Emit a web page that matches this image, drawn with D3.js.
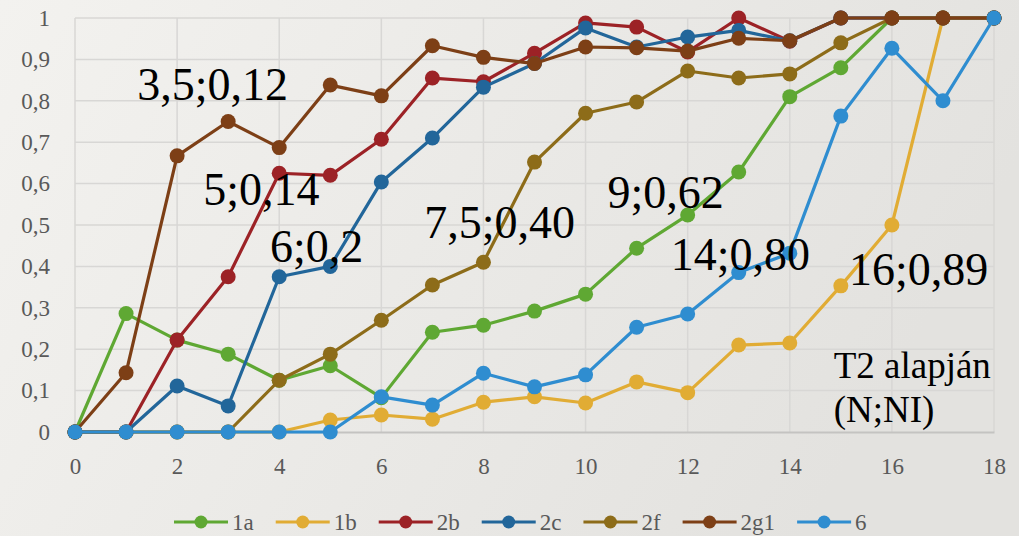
<!DOCTYPE html>
<html lang="hu">
<head>
<meta charset="utf-8" />
<title>T2 alapján</title>
<script src="https://d3js.org/d3.v7.min.js"></script>
<style>
    html, body { margin: 0; padding: 0; }
    body { width: 1019px; height: 536px; overflow: hidden; }
    svg text { font-family: "Liberation Serif", "DejaVu Serif", serif; }
</style>
</head>
<body>
<div id="chart"></div>
<script>
// data
var xValues = d3.range(0, 19);
var xTicks = [0, 2, 4, 6, 8, 10, 12, 14, 16, 18];
var yTicks = [0, 0.1, 0.2, 0.3, 0.4, 0.5, 0.6, 0.7, 0.8, 0.9, 1];

var seriesNames = ["1a", "1b", "2b", "2c", "2f", "2g1", "6"];
var seriesColors = ["#5fa833", "#e1ac34", "#9c2226", "#22669a", "#8d6c19", "#7d3f16", "#2f8dd0"];

var s1a  = [0, 0.286, 0.222, 0.188, 0.125, 0.16, 0.083, 0.241, 0.258, 0.292, 0.333, 0.444, 0.524, 0.628, 0.81, 0.88, 1, 1, 1];
var s1b  = [0, 0, 0, 0, 0, 0.029, 0.041, 0.031, 0.072, 0.085, 0.07, 0.121, 0.095, 0.21, 0.215, 0.353, 0.5, 1, 1];
var s2b  = [0, 0, 0.222, 0.375, 0.625, 0.62, 0.707, 0.855, 0.846, 0.915, 0.988, 0.978, 0.918, 1, 0.944, 1, 1, 1, 1];
var s2c  = [0, 0, 0.111, 0.063, 0.375, 0.4, 0.604, 0.71, 0.833, 0.89, 0.976, 0.93, 0.954, 0.97, 0.945, 1, 1, 1, 1];
var s2f  = [0, 0, 0, 0, 0.125, 0.188, 0.27, 0.355, 0.41, 0.652, 0.77, 0.797, 0.872, 0.855, 0.865, 0.94, 1, 1, 1];
var s2g1 = [0, 0.143, 0.667, 0.75, 0.687, 0.838, 0.812, 0.933, 0.905, 0.89, 0.93, 0.928, 0.92, 0.951, 0.945, 1, 1, 1, 1];
var s6   = [0, 0, 0, 0, 0, 0, 0.085, 0.065, 0.142, 0.109, 0.138, 0.253, 0.285, 0.385, 0.432, 0.763, 0.927, 0.8, 1];

var seriesValues = [s1a, s1b, s2b, s2c, s2f, s2g1, s6];

// text boxes on the chart, placed in data units (left edge, baseline)
var noteTexts = ["3,5;0,12", "5;0,14", "6;0,2", "7,5;0,40", "9;0,62", "14;0,80", "16;0,89"];
var noteX = [1.22, 2.51, 3.82, 6.84, 10.43, 11.67, 15.16];
var noteY = [0.802, 0.548, 0.41, 0.469, 0.541, 0.391, 0.355];

var width = 1019, height = 536;
var margin = { top: 18, right: 25, bottom: 104, left: 75 };

var svg = d3.select("#chart").append("svg")
    .attr("width", width)
    .attr("height", height);

// soft grey background
var grad = svg.append("defs").append("linearGradient")
    .attr("id", "bg").attr("x1", "0").attr("y1", "0").attr("x2", "1").attr("y2", "0.3");
grad.append("stop").attr("offset", "0%").attr("stop-color", "#f3f2ef");
grad.append("stop").attr("offset", "100%").attr("stop-color", "#e3e2df");
svg.append("rect").attr("width", width).attr("height", height).attr("fill", "url(#bg)");

var x = d3.scaleLinear().domain([0, 18]).range([margin.left, width - margin.right]);
var y = d3.scaleLinear().domain([0, 1]).range([height - margin.bottom, margin.top]);

// gridlines
svg.append("g")
    .selectAll("line")
    .data(yTicks.slice(1))
    .enter().append("line")
    .attr("x1", x(0)).attr("x2", x(18))
    .attr("y1", d => y(d)).attr("y2", d => y(d))
    .attr("stroke", "#d8d7d5").attr("stroke-width", 1.5);

svg.append("g")
    .selectAll("line")
    .data(xTicks)
    .enter().append("line")
    .attr("x1", d => x(d)).attr("x2", d => x(d))
    .attr("y1", y(0)).attr("y2", y(1))
    .attr("stroke", "#d8d7d5").attr("stroke-width", 1.5);

// axes
var fmt = d => String(d).replace(".", ",");
var yAxis = svg.append("g")
    .attr("transform", "translate(" + (x(0) - 25) + ",0)")
    .call(d3.axisLeft(y).tickValues(yTicks).tickFormat(fmt).tickSize(0).tickPadding(0))
    .attr("font-family", "Liberation Serif, serif")
    .attr("font-size", 23);
yAxis.select(".domain").remove();
yAxis.selectAll("text").attr("fill", "#595959");

var xAxis = svg.append("g")
    .attr("transform", "translate(0," + y(0) + ")")
    .call(d3.axisBottom(x).tickValues(xTicks).tickFormat(d => d).tickSize(0).tickPadding(26))
    .attr("font-family", "Liberation Serif, serif")
    .attr("font-size", 23);
xAxis.select(".domain").attr("stroke", "#c4c3c1").attr("stroke-width", 2);
xAxis.selectAll("text").attr("fill", "#595959");

// series
var line = d3.line()
    .x((d, i) => x(xValues[i]))
    .y(d => y(d));

seriesNames.forEach(function (name, k) {
    var g = svg.append("g").attr("class", "series");
    g.append("path")
        .datum(seriesValues[k])
        .attr("d", line)
        .attr("fill", "none")
        .attr("stroke", seriesColors[k])
        .attr("stroke-width", 3.2)
        .attr("stroke-linejoin", "round");
    g.selectAll("circle")
        .data(seriesValues[k])
        .enter().append("circle")
        .attr("cx", (d, i) => x(xValues[i]))
        .attr("cy", d => y(d))
        .attr("r", 7.5)
        .attr("fill", seriesColors[k]);
});

// notes
svg.append("g").selectAll("text")
    .data(noteTexts)
    .enter().append("text")
    .attr("x", (d, i) => x(noteX[i]))
    .attr("y", (d, i) => y(noteY[i]))
    .attr("fill", "#000")
    .style("font-size", "46px")
    .text(d => d);

var t2 = svg.append("text")
    .attr("x", x(14.86))
    .attr("y", y(0.13))
    .attr("fill", "#000")
    .style("font-size", "37px");
t2.append("tspan").text("T2 alapján");
t2.append("tspan").attr("x", x(14.86)).attr("dy", 44).text("(N;NI)");

// legend
var legend = svg.append("g").attr("transform", "translate(0,522)");
var lx = 174;
seriesNames.forEach(function (name, k) {
    var item = legend.append("g").attr("transform", "translate(" + lx + ",0)");
    item.append("line")
        .attr("x1", 0).attr("x2", 54)
        .attr("stroke", seriesColors[k]).attr("stroke-width", 3.2);
    item.append("circle")
        .attr("cx", 27).attr("r", 6.5)
        .attr("fill", seriesColors[k]);
    var t = item.append("text")
        .attr("x", 58).attr("dy", "0.35em")
        .attr("fill", "#595959")
        .style("font-size", "23px")
        .text(name);
    lx += 58 + t.node().getComputedTextLength() + 22;
});
</script>
</body>
</html>
